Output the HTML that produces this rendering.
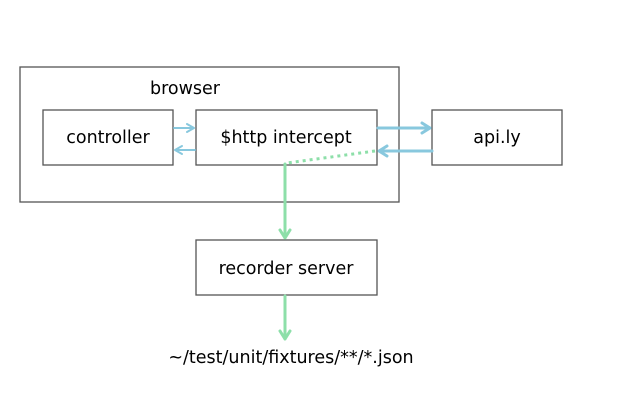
<!DOCTYPE html>
<html><head><style>body{margin:0;background:#fff}</style></head><body>
<svg width="640" height="400" xmlns="http://www.w3.org/2000/svg" font-family="DejaVu Sans, Liberation Sans, sans-serif" font-size="17.5">
<rect x="0" y="0" width="640" height="400" fill="#fff"/>
<g fill="none" stroke="#555" stroke-width="1.3">
<rect x="20" y="67" width="379" height="135"/>
<rect x="43" y="110" width="130" height="55"/>
<rect x="196" y="110" width="181" height="55"/>
<rect x="432" y="110" width="130" height="55"/>
<rect x="196" y="240" width="181" height="55"/>
</g>
<g fill="#000" text-anchor="middle">
<text x="185" y="94">browser</text>
<text x="108" y="143">controller</text>
<text x="286" y="143">$http intercept</text>
<text x="497" y="143">api.ly</text>
<text x="286" y="274">recorder server</text>
<text x="291" y="363">~/test/unit/fixtures/**/*.json</text>
</g>
<g fill="none" stroke="#88c8de" stroke-linecap="round" stroke-linejoin="round">
<path d="M174 128H194M187 124L194 128L187 132" stroke-width="2"/>
<path d="M195 150H175M182 146L175 150L182 154" stroke-width="2"/>
<path d="M378 128H430M422 123L430 128L422 133" stroke-width="3"/>
<path d="M432 151H379M387 146L379 151L387 156" stroke-width="3"/>
</g>
<g fill="none" stroke="#8ddfa9" stroke-linecap="round" stroke-linejoin="round">
<path d="M375 151L287 163" stroke-width="3" stroke-dasharray="3 4" stroke-linecap="butt"/>
<path d="M285 164V238M280 230L285 238L290 230" stroke-width="3"/>
<path d="M285 296V339M280 331L285 339L290 331" stroke-width="3"/>
</g>
</svg>
</body></html>
